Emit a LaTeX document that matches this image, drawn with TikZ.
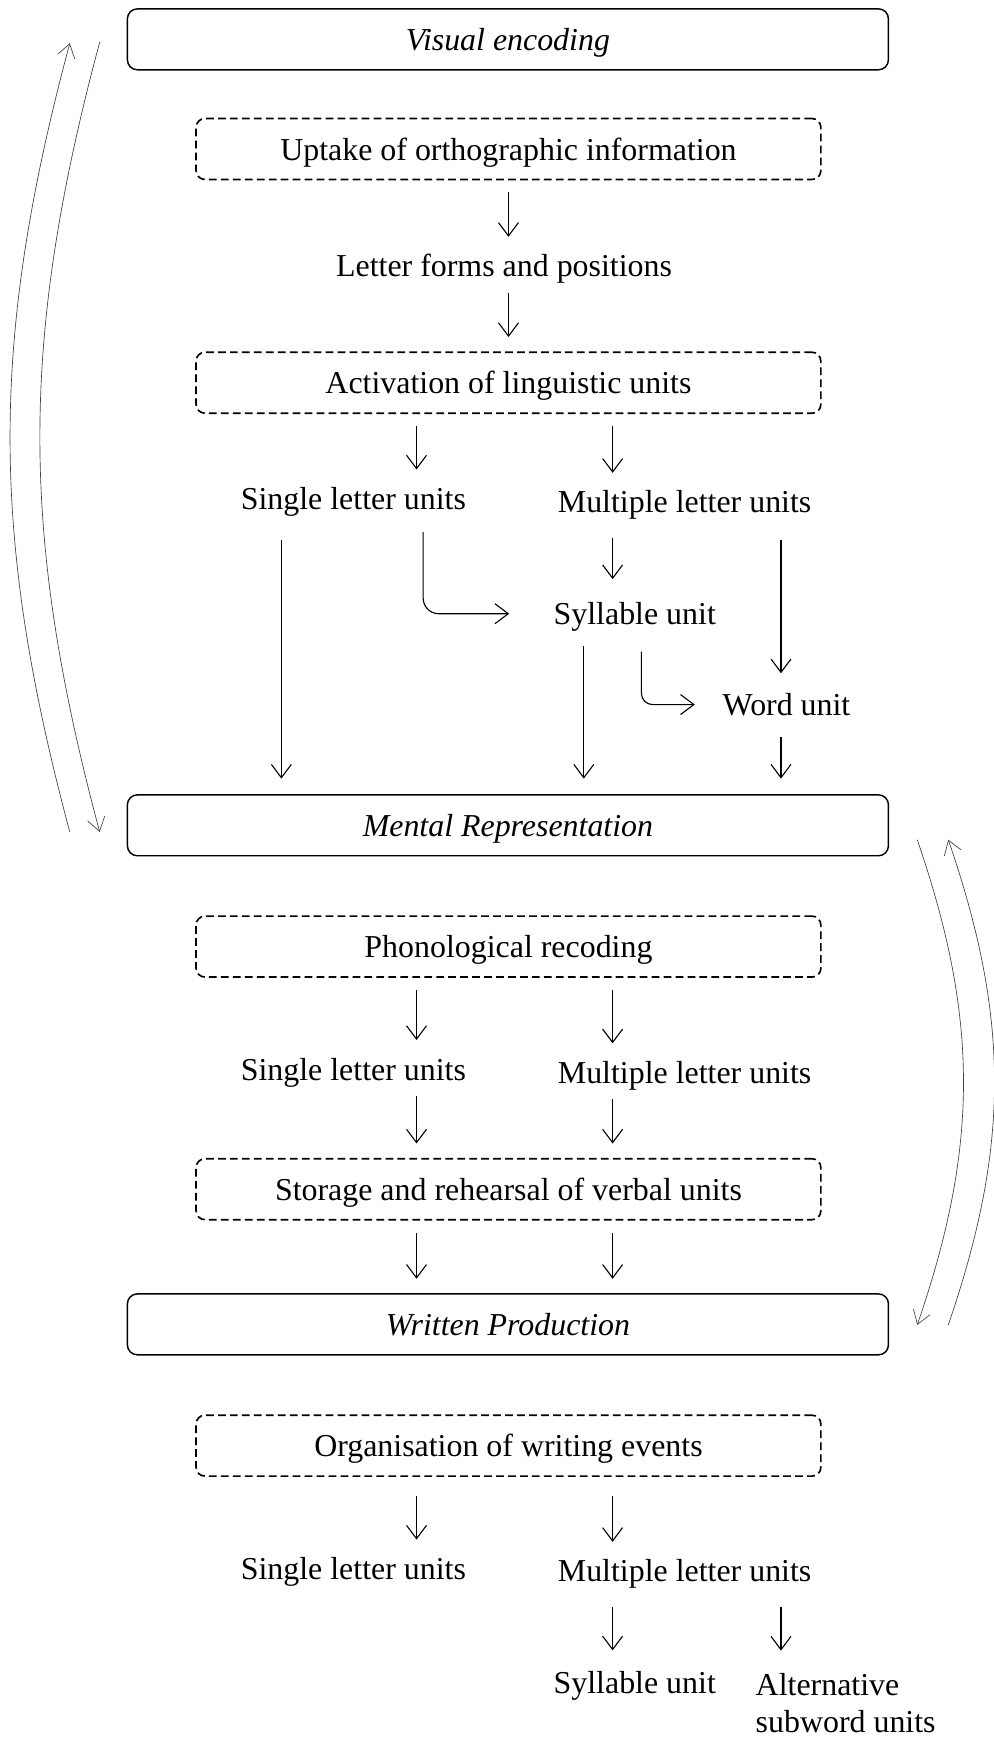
\documentclass[tikz,border=0pt]{standalone}
\usepackage{fontspec}
\setmainfont{Liberation Serif}
\usepackage{tikz}
\usetikzlibrary{positioning, arrows.meta, calc}

\begin{document}
\begin{tikzpicture}[x=1pt, y=-1pt,
    font=\fontsize{28.8}{34}\selectfont,
    stagebox/.style={draw, line width=1.3pt, rounded corners=9pt, minimum width=687pt, minimum height=55pt, inner sep=0pt, text height=23pt, text depth=3pt, font=\fontsize{28.8}{34}\selectfont\itshape},
    subbox/.style={draw, dash pattern=on 7pt off 3.8pt, line width=1.5pt, rounded corners=8pt, minimum width=564pt, minimum height=55pt, inner sep=0pt, text height=23pt, text depth=3pt},
    unitlabel/.style={inner sep=0pt, text height=23pt, text depth=3pt},
    arr/.style={-{Straight Barb[length=12pt, width=18pt]}, line width=1pt, shorten <=11pt, shorten >=13pt},
    sidearrow/.style={-{Straight Barb[length=12pt, width=16pt]}, line width=0.6pt, black!75}]
    \useasboundingbox (0,0) rectangle (897,1568);
    % Columns of the arrows
    \coordinate (cA) at (376,0);
    \coordinate (cB) at (553,0);
    \coordinate (cS) at (254,0);
    \coordinate (cY) at (527,0);
    \coordinate (cW) at (705,0);
    % Stages
    \node[stagebox] (vis) at (458.5,35.5) {Visual encoding};
    \node[stagebox] (mental) at (458.5,745) {Mental Representation};
    \node[stagebox] (written) at (458.5,1195.5) {Written Production};
    % Visual encoding
    \node[subbox] (uptake) at (459,134.5) {Uptake of orthographic information};
    \node[unitlabel] (letters) at (455,240) {Letter forms and positions};
    \node[subbox] (activ) at (459,345.5) {Activation of linguistic units};
    \node[unitlabel] (sl1) at (319,450) {Single letter units};
    \node[unitlabel] (ml1) at (618,453) {Multiple letter units};
    \node[unitlabel] (syl1) at (573,554) {Syllable unit};
    \node[unitlabel] (word1) at (710,636) {Word unit};
    \draw[arr] (uptake.south) -- (letters.north -| uptake.south);
    \draw[arr] (letters.south -| uptake.south) -- (activ.north);
    \draw[arr] (activ.south -| cA) -- (sl1.north -| cA);
    \draw[arr] (activ.south -| cB) -- (ml1.north -| cB);
    \draw[arr, shorten <=24pt, shorten >=14pt] (sl1.south -| cS) -- (mental.north -| cS);
    \draw[arr, rounded corners=14pt, shorten <=17pt, shorten >=40pt] ([xshift=63pt]sl1.south) |- (syl1.west);
    \draw[arr, shorten <=19pt, shorten >=18pt] (ml1.south -| cB) -- (syl1.north -| cB);
    \draw[arr, shorten <=21pt, shorten >=15pt] (ml1.south -| cW) -- (word1.north -| cW);
    \draw[arr, shorten <=16pt, shorten >=14pt] (syl1.south -| cY) -- (mental.north -| cY);
    \draw[arr, rounded corners=10pt, shorten <=21pt, shorten >=25pt] ([xshift=6pt]syl1.south) |- (word1.west);
    \draw[arr, shorten <=16pt, shorten >=14pt] (word1.south -| cW) -- (mental.north -| cW);
    % Mental representation
    \node[subbox] (phon) at (459,854.5) {Phonological recoding};
    \node[unitlabel] (sl2) at (319,965) {Single letter units};
    \node[unitlabel] (ml2) at (618,968) {Multiple letter units};
    \node[subbox] (storage) at (459,1073.5) {Storage and rehearsal of verbal units};
    \draw[arr] (phon.south -| cA) -- (sl2.north -| cA);
    \draw[arr] (phon.south -| cB) -- (ml2.north -| cB);
    \draw[arr] (sl2.south -| cA) -- (storage.north -| cA);
    \draw[arr] (ml2.south -| cB) -- (storage.north -| cB);
    \foreach \c in {cA, cB} {\draw[arr] (storage.south -| \c) -- (written.north -| \c);}
    % Written production
    \node[subbox] (org) at (459,1305) {Organisation of writing events};
    \node[unitlabel] (sl3) at (319,1416) {Single letter units};
    \node[unitlabel] (ml3) at (618,1418) {Multiple letter units};
    \node[unitlabel] (syl3) at (573,1519) {Syllable unit};
    \node[inner sep=0pt, align=left, anchor=north west] (alt) at (682,1510) {Alternative\\subword units};
    \draw[arr, shorten <=17pt] (org.south -| cA) -- (sl3.north -| cA);
    \draw[arr, shorten <=17pt] (org.south -| cB) -- (ml3.north -| cB);
    \draw[arr, shorten <=19pt, shorten >=16pt] (ml3.south -| cB) -- (syl3.north -| cB);
    \draw[arr, shorten <=19pt, shorten >=20pt] (ml3.south -| cW) -- (alt.north -| cW);
    % Feedback arrows at the sides
    \coordinate (lb1) at (63,751); \coordinate (lt1) at (63,39);
    \coordinate (lt2) at (90,38); \coordinate (lb2) at (90,751);
    \draw[sidearrow] (lb1) to[bend left=15] (lt1);
    \draw[sidearrow] (lt2) to[bend right=15] (lb2);
    \coordinate (rt1) at (828,758); \coordinate (rb1) at (828,1196);
    \coordinate (rb2) at (856,1196); \coordinate (rt2) at (856,758);
    \draw[sidearrow] (rt1) to[bend left=19] (rb1);
    \draw[sidearrow] (rb2) to[bend right=19] (rt2);
\end{tikzpicture}
\end{document}
